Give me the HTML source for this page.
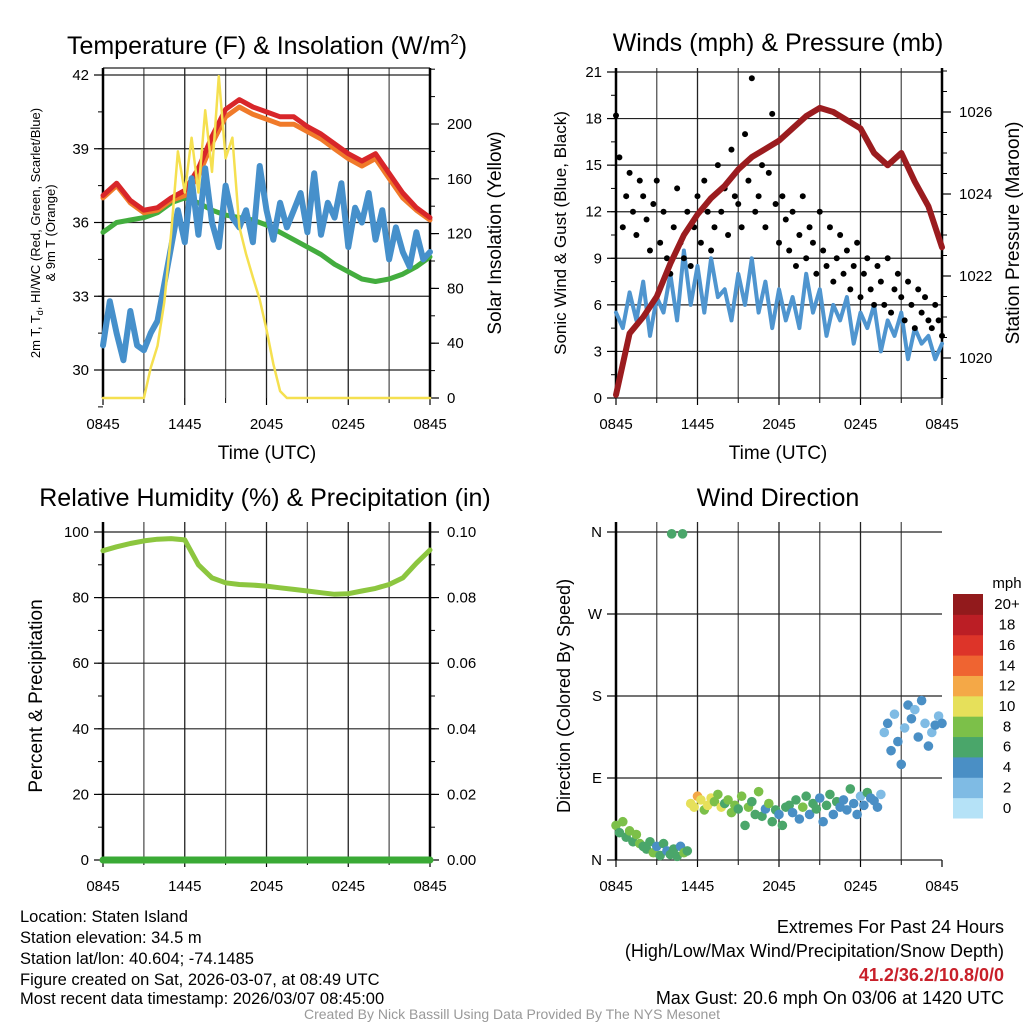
<!DOCTYPE html>
<html><head><meta charset="utf-8">
<style>
html,body{margin:0;padding:0;background:#fff;}
svg{display:block;font-family:"Liberation Sans",Arial,sans-serif;}
</style></head>
<body>
<svg id="fig" width="1024" height="1024" viewBox="0 0 1024 1024" xmlns="http://www.w3.org/2000/svg">
<rect width="1024" height="1024" fill="#fff"/>
<text x="267" y="54" font-size="25" text-anchor="middle">Temperature (F) &amp; Insolation (W/m<tspan dy="-10" font-size="15">2</tspan><tspan dy="10">)</tspan></text>
<text x="778" y="51" font-size="25" text-anchor="middle">Winds (mph) &amp; Pressure (mb)</text>
<text x="265" y="506" font-size="25" text-anchor="middle">Relative Humidity (%) &amp; Precipitation (in)</text>
<text x="778" y="506" font-size="25" text-anchor="middle">Wind Direction</text>

<g font-size="16.5">
<text x="20" y="922">Location: Staten Island</text>
<text x="20" y="943">Station elevation: 34.5 m</text>
<text x="20" y="964">Station lat/lon: 40.604; -74.1485</text>
<text x="20" y="985">Figure created on Sat, 2026-03-07, at 08:49 UTC</text>
<text x="20" y="1004">Most recent data timestamp: 2026/03/07 08:45:00</text>
</g>
<g font-size="18" text-anchor="end">
<text x="1004" y="933">Extremes For Past 24 Hours</text>
<text x="1004" y="957">(High/Low/Max Wind/Precipitation/Snow Depth)</text>
<text x="1004" y="981" fill="#c8202a" font-weight="bold">41.2/36.2/10.8/0/0</text>
<text x="1004" y="1004">Max Gust: 20.6 mph On 03/06 at 1420 UTC</text>
</g>
<text x="512" y="1019" font-size="14" fill="#999" text-anchor="middle">Created By Nick Bassill Using Data Provided By The NYS Mesonet</text>
</svg>
<script>
// ---- data (hours since 0845 UTC) ----
const xTickLabels = ["0845","1445","2045","0245","0845"];
const tempRed = [37.1,37.6,36.9,36.5,36.6,37.0,37.3,38.2,39.5,40.6,41.0,40.7,40.5,40.3,40.3,39.9,39.6,39.2,38.8,38.5,38.8,38.0,37.2,36.6,36.2];
const tempOrange = [37.0,37.5,36.8,36.4,36.5,36.9,37.1,37.9,39.2,40.3,40.7,40.4,40.2,40.0,40.0,39.7,39.4,39.0,38.6,38.3,38.6,37.8,37.0,36.5,36.1];
const dewGreen = [35.6,36.0,36.1,36.2,36.4,36.8,37.0,36.8,36.5,36.3,36.2,36.1,35.9,35.6,35.3,35.0,34.7,34.3,34.0,33.7,33.6,33.7,33.9,34.2,34.6];
const wcBlue = [31.0,32.8,31.5,30.4,32.4,31.0,30.8,31.5,32.0,33.5,35.0,36.5,35.2,37.8,35.5,38.2,36.0,35.0,37.5,36.2,35.8,36.5,35.2,38.3,36.5,35.3,36.8,35.8,36.5,37.2,35.6,38.0,35.5,36.8,36.2,37.6,35.0,36.6,36.0,37.2,35.3,36.5,34.5,35.8,34.8,34.2,35.6,34.5,34.8];
const solar = [0,0,0,0,0,0,0,22,38,70,120,180,150,190,150,210,165,235,175,190,125,105,88,72,50,25,5,0,0,0,0,0,0,0,0,0,0,0,0,0,0,0,0,0,0,0,0,0,0];
const tempTicks = [30,33,36,39,42];
const solarTicks = [0,40,80,120,160,200];

const pressure = [1019.1,1020.6,1021.0,1021.5,1022.3,1023.0,1023.5,1023.9,1024.2,1024.6,1024.9,1025.1,1025.3,1025.6,1025.9,1026.1,1026.0,1025.8,1025.6,1025.0,1024.7,1025.0,1024.3,1023.7,1022.7];
const windSpeed = [5.5,4.5,6.8,5.0,7.5,4.0,6.5,5.5,8.0,5.0,9.5,6.0,8.5,5.5,9.0,6.5,7.0,5.0,8.0,6.0,9.0,5.5,7.5,4.5,7.0,5.0,6.5,4.5,8.0,5.5,7.0,4.0,6.0,5.0,6.5,3.5,5.5,4.5,6.0,3.0,5.0,4.0,5.5,2.5,4.5,3.5,4.0,2.5,3.5];
const windGust = [18.2,15.5,11,13,14.5,12,10.5,14,13,11.5,9.5,12.5,14,10,12,9,8,11,13.5,10,9,12,8.5,11,13,10,14,12,9.5,11,15,12,13.5,10.5,16,13,12.5,11,17,14,20.6,12,13,15,11,14.5,18.3,12.5,10,13,11.5,9.5,12,8.5,10.5,13,9,11,10,8,12,9.5,8.5,11,7.5,9,10.5,8,9.5,7,8.5,10,6.5,8,9,7,6,8.5,7.5,6,9,5.5,7,8,6.5,5,7.5,6,4.5,7,5.5,6.5,5,4.5,6,5,4];
const windTicks = [0,3,6,9,12,15,18,21];
const presTicks = [1020,1022,1024,1026];

const rhValues = [94.3,95.5,96.5,97.3,97.8,98.0,97.6,90.0,86.0,84.5,84.0,83.8,83.5,83.0,82.5,82.0,81.5,81.0,81.2,82.0,82.8,84.0,86.0,90.5,94.5];
const precipValues = [0,0,0,0,0,0,0,0,0,0,0,0,0,0,0,0,0,0,0,0,0,0,0,0,0];
const rhTicks = [0,20,40,60,80,100];
const precipTicks = ["0.00","0.02","0.04","0.06","0.08","0.10"];

const windDir = [38,30,42,25,32,20,28,18,15,12,20,8,15,5,18,10,6,12,4,15,8,10,62,58,70,66,55,60,68,64,72,58,62,66,52,60,56,70,38,58,64,50,75,48,56,62,42,55,50,38,58,60,52,66,45,58,70,50,62,56,68,42,60,72,50,64,58,66,55,78,62,50,70,60,74,68,65,58,72,140,150,120,160,130,105,145,170,155,165,135,175,150,125,140,148,158,150];
const windDirSpd = [7,6,8,6,7,5,8,7,6,6,5,7,4,6,5,4,6,5,6,4,7,5,10,9,11,10,8,9,10,8,7,9,6,8,7,7,6,8,5,7,6,5,7,6,4,7,5,6,4,5,6,5,4,6,3,7,5,4,6,5,4,3,6,5,4,5,3,4,3,5,4,3,2,4,5,3,4,3,2,1,4,3,2,4,3,2,3,4,2,3,4,2,3,2,3,2,3];
const outlierHours = [4.1,4.9];
const outlierDir = [358,358];
const outlierSpd = [6.5,6.5];
const dirTicks = ["N","E","S","W","N"];
const speedBins = ["0","2","4","6","8","10","12","14","16","18","20+"];
const binColors = ["#b5e2f7","#7fbbe4","#4a8fc5","#4aa66a","#7cc049","#e6e05a","#f4a847","#ef6431","#dd3429","#bb1e25","#921a1c"];

// ---- helpers ----
const NS="http://www.w3.org/2000/svg";
const svg=document.getElementById('fig');
function el(tag,attrs,parent,txt){const e=document.createElementNS(NS,tag);for(const k in attrs)e.setAttribute(k,attrs[k]);if(txt!==undefined)e.textContent=txt;(parent||svg).appendChild(e);return e;}
function lin(d0,d1,r0,r1){return v=>r0+(v-d0)*(r1-r0)/(d1-d0);}

function frame(name,x0,x1,y0,y1,hasRight){
  const g=el('g',{});
  
  
  const xs=lin(0,24,x0,x1);
  for(let h=3;h<24;h+=3){const l=el('line',{x1:xs(h),x2:xs(h),y1:y0,y2:y1,stroke:h%6?'#555':'#222','stroke-width':1.3},g);
    }
  for(let i=0;i<=4;i++){const x=xs(i*6);
    el('line',{x1:x,x2:x,y1:y1,y2:y1+7,stroke:'#000','stroke-width':1.2},g);
    const t=el('text',{x:x,y:y1+31,'font-size':15,'text-anchor':'middle'},g,xTickLabels[i]);
    }
  for(let h=3;h<24;h+=6){el('line',{x1:xs(h),x2:xs(h),y1:y1,y2:y1+5,stroke:'#000'},g);}
  return {g,xs};
}
function border(g,x0,x1,y0,y1,hasRight){
  el('line',{x1:x0,x2:x0,y1:y0,y2:y1,stroke:'#000','stroke-width':2.5},g);
  if(hasRight)el('line',{x1:x1,x2:x1,y1:y0,y2:y1,stroke:'#000','stroke-width':2.5},g);
}
function leftTicks(g,x0,x1,ys,ticks,labels,minorStep,lo,hi,grid){
  ticks.forEach((v,i)=>{const y=ys(v);
    if(grid){const l=el('line',{x1:x0,x2:x1,y1:y,y2:y,stroke:'#222','stroke-width':1.2},g);
      }
    el('line',{x1:x0-9,x2:x0,y1:y,y2:y,stroke:'#000','stroke-width':1.2},g);
    const t=el('text',{x:x0-14,y:y+5,'font-size':15,'text-anchor':'end'},g,labels?labels[i]:v);
    });
  if(minorStep)for(let v=lo;v<=hi+1e-9;v+=minorStep){el('line',{x1:x0-5,x2:x0,y1:ys(v),y2:ys(v),stroke:'#000'},g);}
}
function rightTicks(g,x1,ys,ticks,labels,minorStep,lo,hi){
  ticks.forEach((v,i)=>{const y=ys(v);
    el('line',{x1:x1,x2:x1+9,y1:y,y2:y,stroke:'#000','stroke-width':1.2},g);
    const t=el('text',{x:x1+17,y:y+5,'font-size':15},g,labels?labels[i]:v);
    });
  if(minorStep)for(let v=lo;v<=hi+1e-9;v+=minorStep){el('line',{x1:x1,x2:x1+5,y1:ys(v),y2:ys(v),stroke:'#000'},g);}
}
function polyline(vals,step,xs,ys,color,w,name,parent){
  const pts=vals.map((v,i)=>xs(i*step).toFixed(1)+','+ys(v).toFixed(1)).join(' ');
  const p=el('polyline',{points:pts,fill:'none',stroke:color,'stroke-width':w,'stroke-linejoin':'round','stroke-linecap':'round'},parent);
  
  
  return p;
}
function rotText(x,y,txt,size,name){
  const t=el('text',{x:0,y:0,'font-size':size,'text-anchor':'middle',transform:`translate(${x},${y}) rotate(-90)`},svg,txt);
  return t;
}
function label(x,y,txt,size,name){const t=el('text',{x:x,y:y,'font-size':size,'text-anchor':'middle'},svg,txt);
  return t;}

// ---- Panel 1: temperature ----
(function(){
  const x0=103,x1=430,y0=68,y1=398;
  const {g,xs}=frame('temp',x0,x1,y0,y1,true);
  const ys=lin(30,42,370,75);
  const ysol=lin(0,200,398,124);
  el('line',{x1:x0,x2:x1,y1:y0,y2:y0,stroke:'#222','stroke-width':1.2},g);
  leftTicks(g,x0,x1,ys,tempTicks,null,1.5,28.5,42,true);
  rightTicks(g,x1,ysol,solarTicks,null,20,0,240);
  const d=el('g',{});
  
  polyline(dewGreen,1,xs,ys,'#43ad3e',5,'dewpoint-line',d);
  polyline(tempOrange,1,xs,ys,'#f07a2a',5,'temp-9m-line',d);
  polyline(tempRed,1,xs,ys,'#d8262a',5,'temp-2m-line',d);
  polyline(wcBlue,0.5,xs,ys,'#4690cb',6,'windchill-line',d);
  polyline(solar,0.5,xs,ysol,'#f5e050',2.5,'solar-line',d);
  border(g,x0,x1,y0,y1,true);
  label(267,459,'Time (UTC)',19,'temp-x-axis-title');
  rotText(40,233,'2m T, T',13,'temp-y-axis-title').innerHTML='2m T, T<tspan font-size="9" dy="3">d</tspan><tspan dy="-3">, HI/WC (Red, Green, Scarlet/Blue)</tspan>';
  rotText(55,233,'& 9m T (Orange)',13,'temp-y-axis-title-2');
  rotText(501,233,'Solar Insolation (Yellow)',19,'solar-axis-title');
})();

// ---- Panel 2: winds ----
(function(){
  const x0=616,x1=942,y0=68,y1=398;
  const {g,xs}=frame('wind',x0,x1,y0,y1,true);
  const ys=lin(0,21,398,72);
  const yp=lin(1020,1026,358,112);
  leftTicks(g,x0,x1,ys,windTicks,null,1.5,0,21,true);
  rightTicks(g,x1,yp,presTicks,null,0.5,1019.5,1027);
  const d=el('g',{});
  
  polyline(windSpeed,0.5,xs,ys,'#4f95cf',4,'wind-speed-line',d);
  windGust.forEach((v,i)=>{const c=el('circle',{cx:xs(i*0.25),cy:ys(v),r:3,fill:'#000'},d);
    });
  polyline(pressure,1,xs,yp,'#9b1c1f',6,'pressure-line',d);
  border(g,x0,x1,y0,y1,true);
  label(778,459,'Time (UTC)',19,'wind-x-axis-title');
  rotText(566,233,'Sonic Wind & Gust (Blue, Black)',17,'wind-y-axis-title');
  rotText(1019,233,'Station Pressure (Maroon)',19,'pressure-axis-title');
})();

// ---- Panel 3: RH ----
(function(){
  const x0=103,x1=430,y0=522,y1=860;
  const {g,xs}=frame('rh',x0,x1,y0,y1,true);
  const ys=lin(0,100,860,532);
  leftTicks(g,x0,x1,ys,rhTicks,null,10,0,100,true);
  rightTicks(g,x1,ys,rhTicks,precipTicks,10,0,100);
  const d=el('g',{});
  
  polyline(rhValues,1,xs,ys,'#8cc63f',5,'rh-line',d);
  const yprec=lin(0,0.1,860,532);
  polyline(precipValues,1,xs,yprec,'#3aaa35',7,'precip-line',d);
  border(g,x0,x1,y0,y1,true);
  rotText(42,696,'Percent & Precipitation',19,'rh-y-axis-title');
})();

// ---- Panel 4: direction ----
(function(){
  const x0=616,x1=942,y0=522,y1=860;
  const {g,xs}=frame('dir',x0,x1,y0,y1,false);
  const ys=lin(0,360,860,532);
  leftTicks(g,x0,x1,ys,[0,90,180,270,360],dirTicks,0,0,0,true);
  const d=el('g',{});
  
  const col=s=>binColors[Math.max(0,Math.min(10,Math.round(s/2)))];
  windDir.forEach((v,i)=>{const c=el('circle',{cx:xs(i*0.25),cy:ys(v),r:4.8,fill:col(windDirSpd[i])},d);
    });
  outlierHours.forEach((h,i)=>{const c=el('circle',{cx:xs(h),cy:ys(outlierDir[i]),r:4.8,fill:col(outlierSpd[i])},d);
    });
  border(g,x0,x1,y0,y1,false);
  rotText(570,696,'Direction (Colored By Speed)',18,'dir-y-axis-title');
  const cb=el('g',{});
  
  const bh=(818-594)/11;
  speedBins.forEach((lab,i)=>{const y=818-(i+1)*bh;
    const r=el('rect',{x:953,y:y,width:30,height:bh+0.5,fill:binColors[i]},cb);
    
    const t=el('text',{x:1007,y:y+bh/2+5,'font-size':15,'text-anchor':'middle'},cb,lab);
    });
  const u=el('text',{x:1007,y:588,'font-size':15,'text-anchor':'middle'},cb,'mph');
  
})();
</script>
</body></html>
